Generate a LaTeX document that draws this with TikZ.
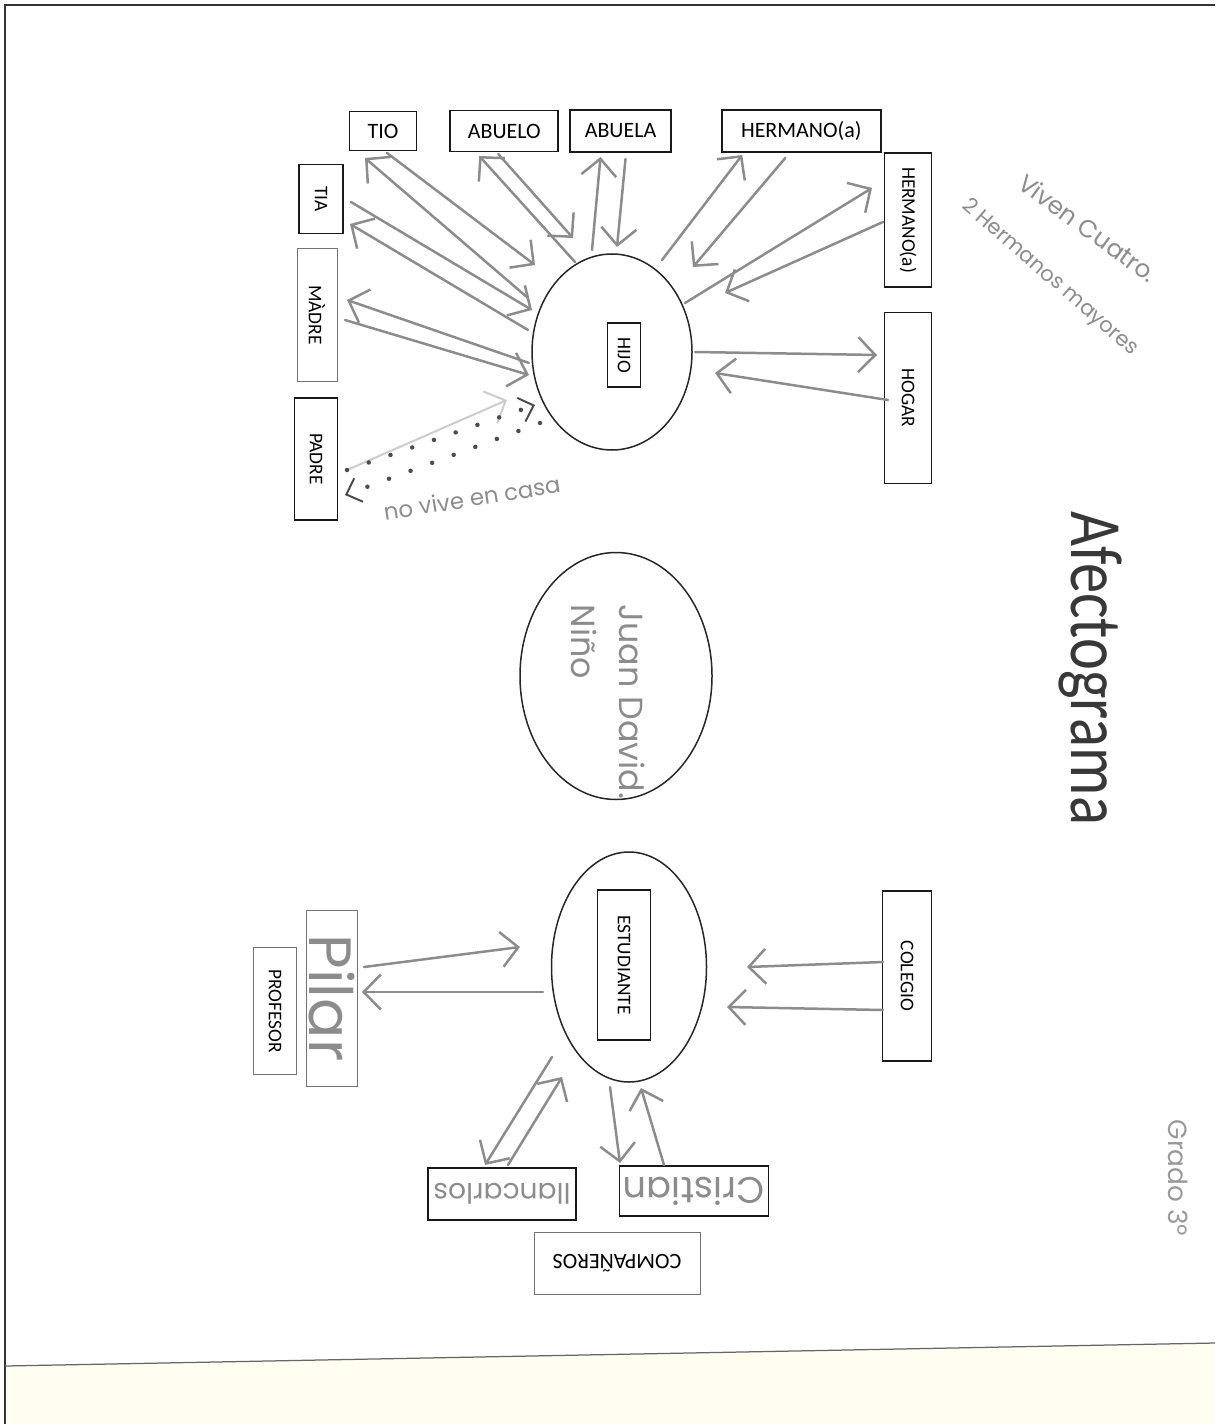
\documentclass[tikz,border=0pt]{standalone}
\usepackage{fontspec}
\setmainfont{Carlito}
\newfontfamily\handfont{Poppins}
\usepackage{graphicx}
\usepackage{tikz}
\usetikzlibrary{arrows.meta,positioning,shapes.geometric,calc}
\tikzset{
  box/.style       = {rectangle, draw=black!90, line width=0.35mm, inner sep=0pt,
                      align=center, font=\fontsize{12.5}{14}\selectfont},
  vbox/.style      = {box, rotate=-90, font=\fontsize{11}{13}\selectfont},
  lightbox/.style  = {draw=black!55, line width=0.2mm},
  oval/.style      = {ellipse, draw=black!85, line width=0.3mm, inner sep=0pt},
  pencilnote/.style = {inner sep=0pt, text=black!45, font=\handfont\fontsize{16}{20}\selectfont},
  handarrow/.style = {-{Straight Barb[length=3.4mm, width=7mm]}, draw=black!45,
                      line width=0.5mm, line cap=round},
  dotpen/.style    = {-{Straight Barb[length=2.6mm, width=5mm, line width=0.4mm]},
                      draw=black!70, line width=0.9mm, line cap=round,
                      dash pattern=on 0pt off 4.6mm},
}

\begin{document}
\begin{tikzpicture}[x=0.2mm, y=-0.2mm]
  \useasboundingbox (0,0) rectangle (1215,1424);
  % scanned page edges
  \fill[yellow!6] (5,1366) -- (1215,1343) -- (1215,1424) -- (5,1424) -- cycle;
  \draw[black!80, line width=0.3mm] (5,1424) -- (5,5) -- (1215,5);
  \draw[black!60, line width=0.25mm] (5,1366) -- (1215,1343);

  % family row
  \node[box, minimum width=13.4mm, minimum height=7.8mm] (tio) at (383,131) {TIO};
  \node[box, minimum width=21.6mm, minimum height=8.2mm, right=6.4mm of tio] (abuelo) {ABUELO};
  \node[box, minimum width=20.2mm, minimum height=8.4mm, right=2mm of abuelo] (abuela) {ABUELA};
  \node[box, minimum width=31.8mm, minimum height=8.4mm, right=9.8mm of abuela] (hermA) {HERMANO(a)};
  \node[vbox, minimum width=13.8mm, minimum height=8.8mm] (tia) at (321,199) {TIA};
  \node[vbox, lightbox, minimum width=26.4mm, minimum height=8mm] (madre) at (317,315) {MÀDRE};
  \node[vbox, minimum width=24.4mm, minimum height=8.6mm] (padre) at (316,459) {PADRE};
  \node[vbox, minimum width=26.8mm, minimum height=9.4mm] (hermB) at (908,220) {HERMANO(a)};
  \node[vbox, minimum width=34.2mm, minimum height=9.4mm] (hogar) at (908,398) {HOGAR};

  % the three ovals
  \node[oval, minimum width=32mm, minimum height=39.2mm] (hijo) at (612,352) {};
  \node[vbox, minimum width=12.8mm, minimum height=6.6mm] (hijobox) at (624,355) {HIJO};
  \node[oval, minimum width=38.4mm, minimum height=49.4mm] (juan) at (616,676) {};
  \node[pencilnote, rotate=-90, align=left, font=\handfont\fontsize{19}{27}\selectfont]
       (juantxt) at (608,702) {Juan David.\\Niño};
  \node[oval, minimum width=31mm, minimum height=46mm] (est) at (629,967) {};
  \node[vbox, minimum width=30mm, minimum height=10.6mm] (estbox) at (624,965) {ESTUDIANTE};

  % school side
  \node[vbox, minimum width=34mm, minimum height=9.8mm] (colegio) at (907,976) {COLEGIO};
  \node[box, lightbox, rotate=-90, minimum width=35.2mm, minimum height=10.2mm,
        text=black!45, font=\handfont\fontsize{34}{36}\selectfont] (pilar) at (332,998) {Pilar};
  \node[vbox, lightbox, minimum width=25.4mm, minimum height=8.6mm] (profesor) at (275,1011) {PROFESOR};
  \node[box, rotate=180, minimum width=29.6mm, minimum height=10.4mm,
        text=black!45, font=\handfont\fontsize{16}{18}\selectfont] (llanc) at (502,1194) {llancarlos};
  \node[box, rotate=180, minimum width=29.8mm, minimum height=10mm,
        text=black!45, font=\handfont\fontsize{21}{24}\selectfont] (crist) at (694,1191) {Cristian};
  \node[box, lightbox, rotate=180, minimum width=33.2mm, minimum height=12.4mm] (comp) at (617,1263) {COMPAÑEROS};

  % title and notes
  \node[rotate=-90, inner sep=0pt, text=black!78, font=\fontsize{42}{48}\selectfont]
       (titulo) at (1090,668) {\scalebox{0.82}[1]{Afectograma}};
  \node[pencilnote, rotate=9, font=\handfont\fontsize{13}{15}\selectfont] (nota) at (472,498) {no vive en casa};
  \node[pencilnote, rotate=-36, font=\handfont\fontsize{14}{16}\selectfont] (viven) at (1088,228) {Viven Cuatro.};
  \node[pencilnote, rotate=-41, font=\handfont\fontsize{12}{14}\selectfont] (hermanos) at (1050,278) {2 Hermanos mayores};
  \node[pencilnote, rotate=-90, text=black!40, font=\handfont\fontsize{15}{17}\selectfont] (grado) at (1178,1178) {Grado 3º};

  % pencil arrows
  \foreach \a/\ax/\ay/\b/\bx/\by in {
      tio/4/22/hijo/-77/-87, hijo/-84/-54/tio/-18/27,
      tia/30/3/hijo/-80/-42, hijo/-84/-22/tia/29/25,
      hijo/-83/11/madre/30/-15, madre/28/5/hijo/-83/23,
      hijo/-37/-90/abuelo/-25/25, abuelo/-6/23/hijo/-39/-114,
      hijo/-20/-102/abuela/-20/26, abuela/5/28/hijo/5/-105,
      hijo/50/-92/hermA/-59/24, hermA/-16/27/hijo/81/-85,
      hijo/73/-49/hermB/-36/-32, hermB/-25/2/hijo/113/-59,
      hijo/83/0/hogar/-31/-43, hogar/-20/2/hijo/103/21,
      pilar/32/-31/est/-109/-20, est/-86/25/pilar/30/-6,
      colegio/-24/-14/est/118/0, colegio/-24/34/est/98/40,
      est/-77/90/llanc/-17/-29, llanc/6/-29/est/-67/110,
      est/-19/120/crist/-74/-28, crist/-30/-26/est/12/121}
    \draw[handarrow] ($(\a)+(\ax,\ay)$) -- ($(\b)+(\bx,\by)$);

  % father does not live at home
  \draw[handarrow, draw=black!20, line width=0.4mm] ($(padre)+(31,11)$) -- ($(hijo)+(-105,48)$);
  \draw[dotpen] ($(padre)+(31,11)$) -- ($(hijo)+(-77,53)$);
  \draw[dotpen] ($(hijo)+(-72,71)$) -- ($(padre)+(29,36)$);
\end{tikzpicture}
\end{document}
